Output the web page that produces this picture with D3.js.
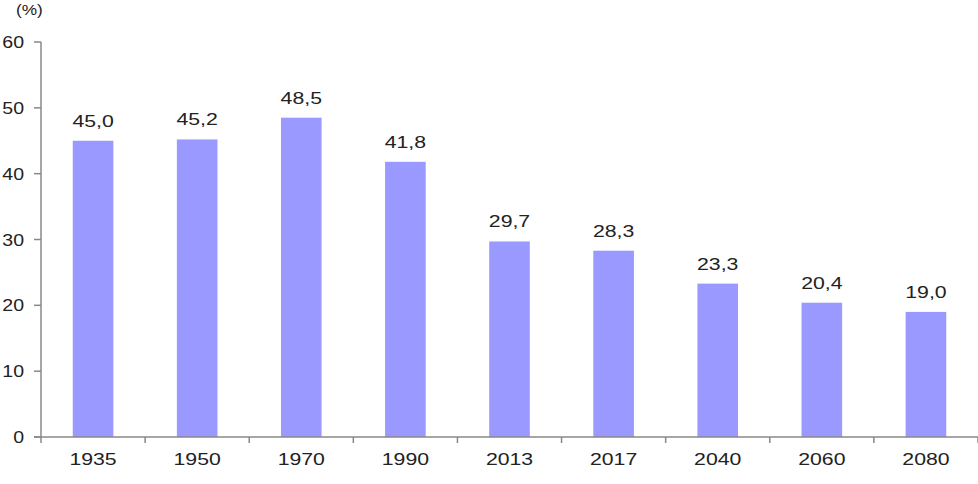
<!DOCTYPE html>
<html><head><meta charset="utf-8">
<script src="https://cdn.jsdelivr.net/npm/d3@7"></script>
<style>body{margin:0;background:#fff}svg{display:block}text{font-family:"Liberation Sans",Arial,sans-serif;fill:#222}</style>
</head><body><svg id="c" width="978" height="484"></svg>
<script>
const categories = ["1935","1950","1970","1990","2013","2017","2040","2060","2080"];
const values = [45.0,45.2,48.5,41.8,29.7,28.3,23.3,20.4,19.0];
const yTicks = [0,10,20,30,40,50,60];
const unitLabel = "(%)";

const svg = d3.select("#c");
const x = d3.scaleBand().domain(categories).range([41,978]);
const y = d3.scaleLinear().domain([0,60]).range([437,42]);
const fmt = v => v.toFixed(1).replace(".",",");
const barW = x.bandwidth()*0.39;
const sx = 1.25;

svg.selectAll("rect.bar").data(values).join("rect")
  .attr("x",(d,i)=>x(categories[i])+x.bandwidth()/2-barW/2)
  .attr("y",d=>y(d)).attr("width",barW).attr("height",d=>y(0)-y(d))
  .attr("fill","#9999ff");

svg.selectAll("text.val").data(values).join("text")
  .attr("transform",(d,i)=>`translate(${x(categories[i])+x.bandwidth()/2},${y(d)-14}) scale(${sx},1)`)
  .attr("text-anchor","middle")
  .attr("font-size",17).text(fmt);

// y axis
const gy = svg.append("g");
gy.append("line").attr("x1",41).attr("x2",41).attr("y1",y(60)).attr("y2",y(0)).attr("stroke","#888").attr("stroke-width",1.5);
gy.selectAll("line.t").data(yTicks).join("line").attr("x1",34).attr("x2",41)
  .attr("y1",d=>y(d)).attr("y2",d=>y(d)).attr("stroke","#888").attr("stroke-width",1.5);
gy.selectAll("text").data(yTicks).join("text")
  .attr("transform",d=>`translate(24,${y(d)+6}) scale(1.15,1)`)
  .attr("text-anchor","end").attr("font-size",17).text(d=>d);

// x axis
const gx = svg.append("g");
gx.append("line").attr("x1",34).attr("x2",978).attr("y1",y(0)).attr("y2",y(0)).attr("stroke","#888").attr("stroke-width",1.5);
const bounds = categories.map(c=>x(c)).concat([x(categories[categories.length-1])+x.step()]);
gx.selectAll("line.t").data(bounds).join("line").attr("x1",d=>d).attr("x2",d=>d)
  .attr("y1",y(0)).attr("y2",y(0)+6).attr("stroke","#888").attr("stroke-width",1.5);
gx.selectAll("text").data(categories).join("text")
  .attr("transform",d=>`translate(${x(d)+x.bandwidth()/2},${y(0)+28}) scale(${sx},1)`)
  .attr("text-anchor","middle").attr("font-size",17).text(d=>d);

svg.append("text").attr("transform","translate(16,15) scale(1.15,1)").attr("font-size",15).text(unitLabel);
</script></body></html>
